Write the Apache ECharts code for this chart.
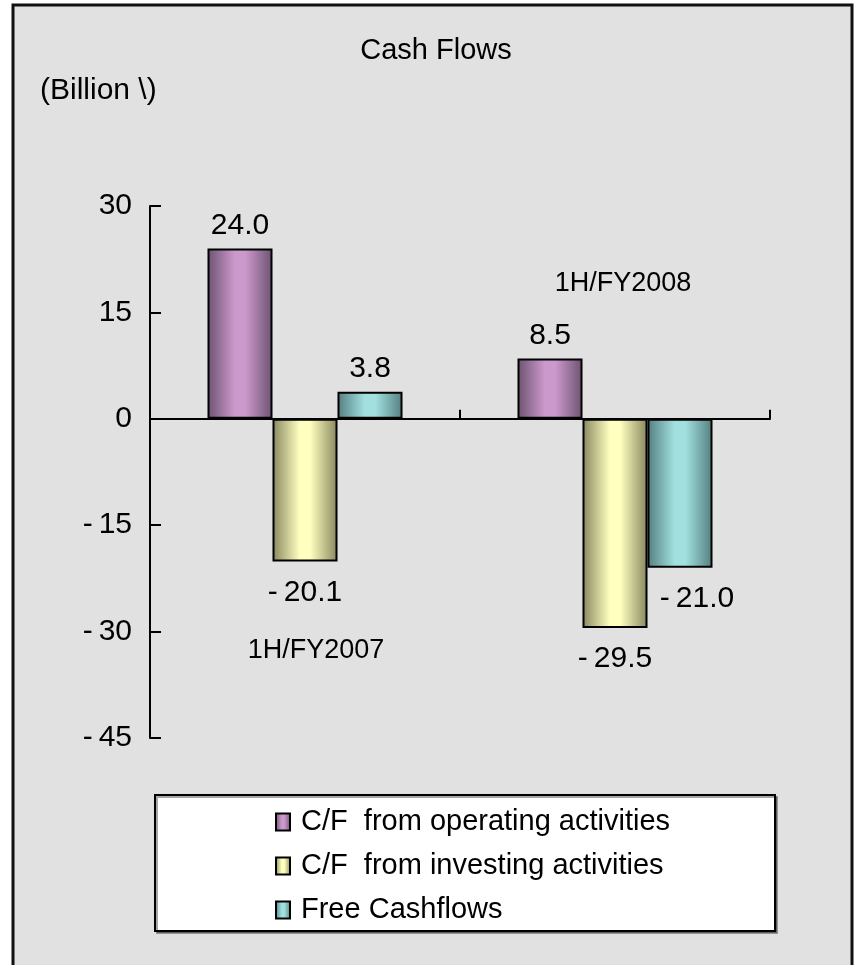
<!DOCTYPE html>
<html>
<head>
<meta charset="utf-8">
<script src="https://cdn.jsdelivr.net/npm/echarts@6/dist/echarts.min.js"></script>
<style>
  html, body { margin: 0; padding: 0; background: #ffffff; }
  #chart { width: 855px; height: 965px; }
</style>
</head>
<body>
<div id="chart"></div>
<script>
// Half-year periods
const categories = ['1H/FY2007', '1H/FY2008'];

// Cash flow figures, billion yen
const operatingCF = [24.0, 8.5];
const investingCF = [-20.1, -29.5];
const freeCF = [3.8, -21.0];

const seriesNames = [
  'C/F  from operating activities',
  'C/F  from investing activities',
  'Free Cashflows'
];

// Value axis range
const yMin = -45;
const yMax = 30;
const yStep = 15;

const FONT = '"Liberation Sans", Arial, sans-serif';

function barGradient(edge, mid) {
  return new echarts.graphic.LinearGradient(0, 0, 1, 0, [
    { offset: 0, color: edge },
    { offset: 0.42, color: mid },
    { offset: 0.58, color: mid },
    { offset: 1, color: edge }
  ]);
}

const fills = [
  barGradient('#6c5270', '#cc99cc'),
  barGradient('#87875f', '#ffffc0'),
  barGradient('#547f80', '#a2e0e0')
];

function signedText(v) {
  const s = Math.abs(v).toFixed(1);
  return v < 0 ? '-\u2009' + s : s;
}

// Positive values sit above their bar, negative ones below
function barData(values, shifts) {
  return values.map(function (v, i) {
    const item = {
      value: v,
      label: {
        position: v >= 0 ? 'top' : 'bottom',
        distance: v >= 0 ? 8 : 16
      }
    };
    if (shifts && shifts[i]) item.label.offset = [shifts[i], 0];
    return item;
  });
}

const labelStyle = {
  show: true,
  color: '#000',
  fontFamily: FONT,
  fontSize: 30,
  formatter: function (p) { return signedText(p.value); }
};

function makeSeries(name, values, fill, shifts) {
  return {
    name: name,
    type: 'bar',
    barWidth: 65,
    barGap: '0%',
    itemStyle: { color: fill, borderColor: '#000', borderWidth: 2 },
    label: labelStyle,
    emphasis: { disabled: true },
    data: barData(values, shifts)
  };
}

const chart = echarts.init(document.getElementById('chart'), null, { renderer: 'canvas' });

chart.setOption({
  animation: false,
  backgroundColor: '#ffffff',
  graphic: [
    {
      type: 'rect', z: -10, silent: true,
      shape: { x: 13, y: 5, width: 839, height: 980 },
      style: { fill: '#e1e1e1', stroke: '#111', lineWidth: 3 }
    },
    {
      type: 'rect', z: -5, silent: true,
      shape: { x: 155, y: 795, width: 620, height: 136 },
      style: { fill: '#ffffff', stroke: '#000', lineWidth: 2,
               shadowColor: 'rgba(0,0,0,0.35)', shadowOffsetX: 2, shadowOffsetY: 2 }
    },
    {
      type: 'text', x: 436, y: 51,
      style: { text: 'Cash Flows', font: '29px ' + FONT, fill: '#000',
               textAlign: 'center', textVerticalAlign: 'middle' }
    },
    {
      type: 'text', x: 40, y: 91,
      style: { text: '(Billion \\)', font: '30px ' + FONT, fill: '#000',
               textAlign: 'left', textVerticalAlign: 'middle' }
    }
  ],
  grid: { left: 150, top: 206, width: 620, height: 532, containLabel: false },
  xAxis: {
    type: 'category',
    data: categories,
    axisLine: { onZero: true, lineStyle: { color: '#000', width: 2 } },
    axisTick: { show: true, inside: true, length: 9, lineStyle: { color: '#000', width: 2 } },
    axisLabel: { show: false },
    splitLine: { show: false }
  },
  yAxis: {
    type: 'value',
    min: yMin,
    max: yMax,
    interval: yStep,
    axisLine: { show: true, lineStyle: { color: '#000', width: 2 } },
    axisTick: { show: true, inside: true, length: 11, lineStyle: { color: '#000', width: 2 } },
    axisLabel: {
      color: '#000', fontFamily: FONT, fontSize: 30, margin: 18,
      formatter: function (v) { return v < 0 ? '-\u2009' + Math.abs(v) : String(v); }
    },
    splitLine: { show: false }
  },
  legend: {
    orient: 'vertical',
    left: 275,
    top: 807,
    padding: 0,
    icon: 'rect',
    itemWidth: 14,
    itemHeight: 17,
    itemGap: 14,
    selectedMode: false,
    textStyle: { color: '#000', fontFamily: FONT, fontSize: 29, lineHeight: 30, padding: [0, 0, 0, 6] },
    data: seriesNames
  },
  series: [
    makeSeries(seriesNames[0], operatingCF, fills[0]),
    makeSeries(seriesNames[1], investingCF, fills[1]),
    makeSeries(seriesNames[2], freeCF, fills[2], [0, 17])
  ]
});

// Period names are placed inside the plot, clear of the bars
const periodLabelPos = [
  { dy: 232, dx: 11 },
  { dy: -135, dx: 8 }
];
const zeroY = chart.convertToPixel({ yAxisIndex: 0 }, 0);
chart.setOption({
  graphic: categories.map(function (c, i) {
    const cx = chart.convertToPixel({ xAxisIndex: 0 }, c);
    return {
      type: 'text',
      id: 'period' + i,
      x: cx + periodLabelPos[i].dx,
      y: zeroY + periodLabelPos[i].dy,
      style: {
        text: c, font: '27px ' + FONT, fill: '#000',
        textAlign: 'center', textVerticalAlign: 'middle'
      }
    };
  })
});
</script>
</body>
</html>
